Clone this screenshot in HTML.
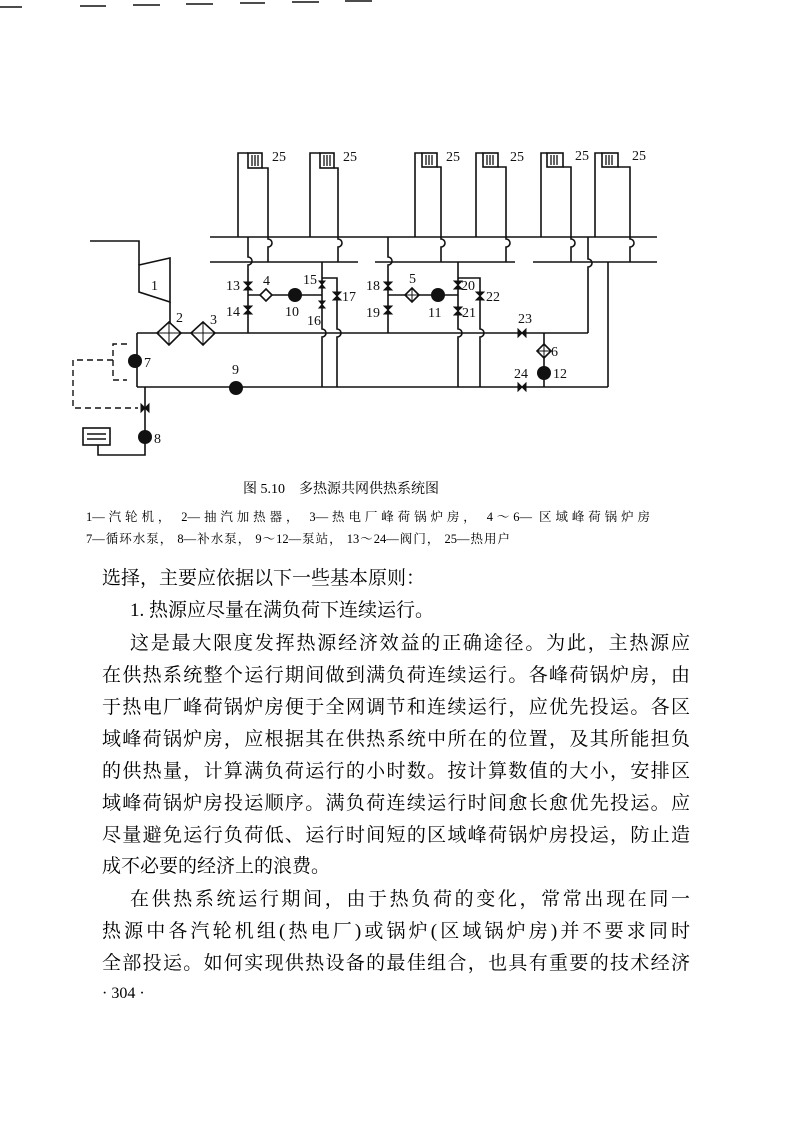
<!DOCTYPE html>
<html><head><meta charset="utf-8"><style>
body{margin:0;background:#fff;width:793px;height:1121px;position:relative;overflow:hidden;font-family:"Liberation Serif","Noto Serif CJK SC","Noto Sans CJK SC",serif;color:#000}
.l{position:absolute;left:102px;width:588px;font-size:19px;line-height:24px;white-space:nowrap}
.j{text-align:justify;text-align-last:justify}
svg{position:absolute;left:0;top:0}
</style></head><body>
<svg width="793" height="560" viewBox="0 0 793 560">
<g stroke="#111" stroke-width="1.6" fill="none">
<line x1="0" y1="7" x2="22" y2="7"/><line x1="80" y1="6" x2="106" y2="6"/><line x1="133" y1="5" x2="160" y2="5"/><line x1="186" y1="4" x2="213" y2="4"/><line x1="240" y1="3" x2="265" y2="3"/><line x1="292" y1="2" x2="319" y2="2"/><line x1="345" y1="1" x2="372" y2="1"/>
<line x1="210" y1="237" x2="657" y2="237"/>
<line x1="210" y1="262" x2="358" y2="262"/><line x1="375" y1="262" x2="515" y2="262"/><line x1="533" y1="262" x2="657" y2="262"/>
<path d="M238 237V153H248"/><path d="M268 262V247a3 3 0 0 0 0-8V168H262"/>
<path d="M310 237V153H320"/><path d="M338 262V247a3 3 0 0 0 0-8V168H334"/>
<path d="M415 237V153H422"/><path d="M441 262V247a3 3 0 0 0 0-8V167H437"/>
<path d="M476 237V153H483"/><path d="M506 262V247a3 3 0 0 0 0-8V167H498"/>
<path d="M541 237V153H547"/><path d="M571 262V247a3 3 0 0 0 0-8V167H563"/>
<path d="M595 237V153H602"/><path d="M630 262V247a3 3 0 0 0 0-8V167H618"/>
<path d="M90 241H139V265"/>
<path d="M139 265L170 258V302L139 292Z"/>
<line x1="170" y1="302" x2="170" y2="326"/>
<line x1="137" y1="333" x2="588" y2="333"/>
<path d="M588 333V267a3 3 0 0 0 0-8V237"/>
<line x1="137" y1="333" x2="137" y2="387"/>
<line x1="137" y1="387" x2="608" y2="387"/>
<line x1="608" y1="387" x2="608" y2="262"/>
<path d="M248 237V257a3 3 0 0 1 0 8V333"/>
<line x1="248" y1="295" x2="322" y2="295"/>
<path d="M322 262V329a3 3 0 0 1 0 8V387"/>
<path d="M322 278H337V329a3 3 0 0 1 0 8V387"/>
<path d="M388 237V257a3 3 0 0 1 0 8V333"/>
<line x1="388" y1="295" x2="458" y2="295"/>
<path d="M458 262V329a3 3 0 0 1 0 8V387"/>
<path d="M458 278H480V329a3 3 0 0 1 0 8V387"/>
<line x1="544" y1="333" x2="544" y2="387"/>
<path d="M145 387V455H98V445"/>
<rect x="83" y="428" width="27" height="17"/>
<line x1="87" y1="434" x2="106" y2="434"/><line x1="87" y1="439" x2="106" y2="439"/>
</g>
<g stroke="#111" stroke-width="1.4" fill="none" stroke-dasharray="6,4">
<path d="M127 344H113V380H127"/><path d="M113 360H73V408H138"/>
</g>
<g stroke="#111" stroke-width="1.6" fill="#fff">
<rect x="248" y="153" width="14" height="15"/><rect x="320" y="153" width="14" height="15"/><rect x="422" y="153" width="15" height="14"/><rect x="483" y="153" width="15" height="14"/><rect x="547" y="153" width="16" height="14"/><rect x="602" y="153" width="16" height="14"/>
</g>
<g stroke="#111" stroke-width="1.3">
<path d="M252 155v11M255 155v11M258 155v11M324 155v11M327 155v11M330 155v11M426 155v10M429 155v10M432 155v10M487 155v10M490 155v10M493 155v10M551 155v10M554 155v10M557 155v10M606 155v10M609 155v10M612 155v10"/>
</g>
<g stroke="#111" stroke-width="1.6" fill="#fff">
<path d="M169 322L181 333L169 345L157 333Z"/><path d="M203 322L215 333L203 345L191 333Z"/>
<path d="M266 289L272 295L266 301L260 295Z"/><path d="M412 288L419 295L412 302L405 295Z"/><path d="M544 344L551 351L544 358L537 351Z"/>
</g>
<g stroke="#111" stroke-width="1"><path d="M157 333H181M169 322V345M191 333H215M203 322V345M405 295H419M412 288V302M537 351H551M544 344V358"/></g>
<g fill="#111">
<circle cx="135" cy="361" r="7"/><circle cx="145" cy="437" r="7"/><circle cx="236" cy="388" r="7"/><circle cx="295" cy="295" r="7"/><circle cx="438" cy="295" r="7"/><circle cx="544" cy="373" r="7"/>
</g>
<g fill="#111" stroke="#111" stroke-width="1">
<path d="M244 282h8l-8 8h8z"/><path d="M244 306h8l-8 8h8z"/>
<path d="M319 281h6l-6 7h6z"/><path d="M319 301h6l-6 7h6z"/>
<path d="M333 292h8l-8 8h8z"/>
<path d="M384 282h8l-8 8h8z"/><path d="M384 306h8l-8 8h8z"/>
<path d="M454 281h8l-8 8h8z"/><path d="M454 307h8l-8 8h8z"/>
<path d="M476 292h8l-8 8h8z"/>
<path d="M518 329v8l8-8v8z"/><path d="M518 383v8l8-8v8z"/>
<path d="M141 404v8l8-8v8z"/>
</g>
<g font-family="Liberation Serif,serif" font-size="14" fill="#111">
<text x="272" y="161">25</text><text x="343" y="161">25</text><text x="446" y="161">25</text><text x="510" y="161">25</text><text x="575" y="160">25</text><text x="632" y="160">25</text>
<text x="151" y="290">1</text><text x="176" y="322">2</text><text x="210" y="324">3</text>
<text x="144" y="367">7</text><text x="154" y="443">8</text><text x="232" y="374">9</text>
<text x="226" y="290">13</text><text x="226" y="316">14</text><text x="263" y="285">4</text>
<text x="285" y="316">10</text><text x="303" y="284">15</text><text x="307" y="325">16</text><text x="342" y="301">17</text>
<text x="366" y="290">18</text><text x="366" y="317">19</text><text x="409" y="283">5</text>
<text x="428" y="317">11</text><text x="461" y="290">20</text><text x="462" y="317">21</text><text x="486" y="301">22</text>
<text x="518" y="323">23</text><text x="551" y="356">6</text><text x="514" y="378">24</text><text x="553" y="378">12</text>
</g>
</svg>
<div class="l" style="top:478px;left:243px;font-size:14px;width:195px">图 5.10　多热源共网供热系统图</div>
<div class="l j" style="top:505px;left:86px;font-size:12.5px;width:564px;">1—汽轮机， 2—抽汽加热器， 3—热电厂峰荷锅炉房， 4～6— 区域峰荷锅炉房</div>
<div class="l j" style="top:527px;left:86px;font-size:12.5px;width:424px">7—循环水泵， 8—补水泵， 9～12—泵站， 13～24—阀门， 25—热用户</div>
<div class="l" style="top:567px">选择，主要应依据以下一些基本原则：</div>
<div class="l" style="top:599px;left:130px">1. 热源应尽量在满负荷下连续运行。</div>
<div class="l j" style="top:632px;left:130px;width:560px">这是最大限度发挥热源经济效益的正确途径。为此，主热源应</div>
<div class="l j" style="top:664px">在供热系统整个运行期间做到满负荷连续运行。各峰荷锅炉房，由</div>
<div class="l j" style="top:696px">于热电厂峰荷锅炉房便于全网调节和连续运行，应优先投运。各区</div>
<div class="l j" style="top:728px">域峰荷锅炉房，应根据其在供热系统中所在的位置，及其所能担负</div>
<div class="l j" style="top:760px">的供热量，计算满负荷运行的小时数。按计算数值的大小，安排区</div>
<div class="l j" style="top:792px">域峰荷锅炉房投运顺序。满负荷连续运行时间愈长愈优先投运。应</div>
<div class="l j" style="top:824px">尽量避免运行负荷低、运行时间短的区域峰荷锅炉房投运，防止造</div>
<div class="l" style="top:855px">成不必要的经济上的浪费。</div>
<div class="l j" style="top:888px;left:130px;width:560px">在供热系统运行期间，由于热负荷的变化，常常出现在同一</div>
<div class="l j" style="top:920px">热源中各汽轮机组(热电厂)或锅炉(区域锅炉房)并不要求同时</div>
<div class="l j" style="top:952px">全部投运。如何实现供热设备的最佳组合，也具有重要的技术经济</div>
<div class="l" style="top:982px;font-size:16px">· 304 ·</div>
</body></html>
